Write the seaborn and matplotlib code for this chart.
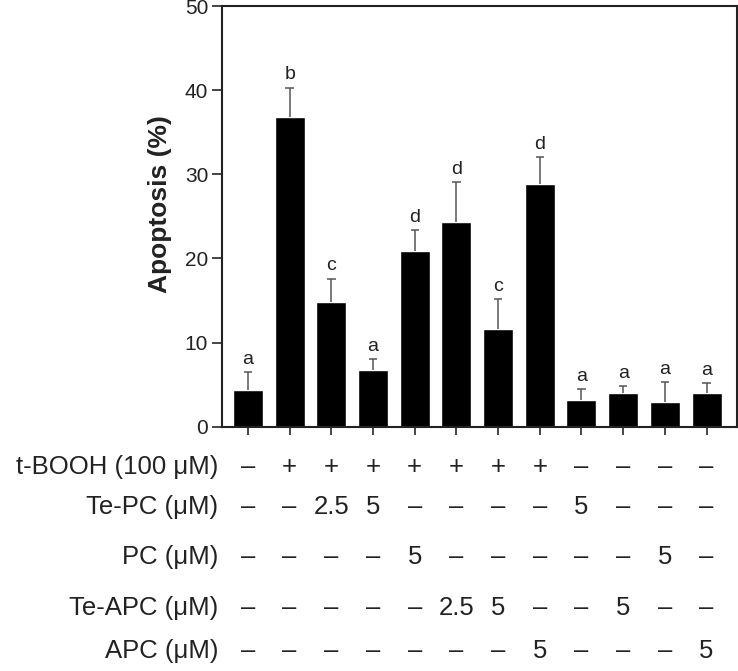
import numpy as np
import pandas as pd
import matplotlib
matplotlib.use("Agg")
import matplotlib.pyplot as plt
import seaborn as sns

# apoptosis values (mean) and upper error end
groups = [f"g{i}" for i in range(1, 13)]
apoptosis = [4.4, 36.8, 14.8, 6.7, 20.9, 24.3, 11.6, 28.9, 3.2, 4.0, 3.0, 4.0]
err_top = [6.5, 40.3, 17.6, 8.0, 23.4, 29.1, 15.2, 32.0, 4.5, 4.8, 5.3, 5.2]
letters = ["a", "b", "c", "a", "d", "d", "c", "d", "a", "a", "a", "a"]

# treatment table under the bars
row_labels = ["t-BOOH (100 μM)", "Te-PC (μM)", "PC (μM)", "Te-APC (μM)", "APC (μM)"]
tbooh = ["–", "+", "+", "+", "+", "+", "+", "+", "–", "–", "–", "–"]
te_pc = ["–", "–", "2.5", "5", "–", "–", "–", "–", "5", "–", "–", "–"]
pc = ["–", "–", "–", "–", "5", "–", "–", "–", "–", "–", "5", "–"]
te_apc = ["–", "–", "–", "–", "–", "2.5", "5", "–", "–", "5", "–", "–"]
apc = ["–", "–", "–", "–", "–", "–", "–", "5", "–", "–", "–", "5"]
table_rows = [tbooh, te_pc, pc, te_apc, apc]

df = pd.DataFrame({"group": groups, "apoptosis": apoptosis})

sns.set_style("ticks")
plt.rcParams['font.family'] = ['Liberation Sans', 'DejaVu Sans']

fig = plt.figure(figsize=(7.38, 6.71), dpi=100)
ax = fig.add_axes([0.301, 0.364, 0.697, 0.627])

sns.barplot(data=df, x="group", y="apoptosis", color="black", width=0.72,
            saturation=1, errorbar=None, ax=ax)
x = np.arange(len(groups))
# upper error bars only: stem from bar top plus a cap
ax.vlines(x, apoptosis, err_top, color="#555555", lw=1.1, zorder=1)
ax.hlines(err_top, x - 0.1, x + 0.1, color="#555555", lw=1.1, zorder=1)

# significance letters above the error bars
for xi, top, lab in zip(x, err_top, letters):
    ax.text(xi, top + 0.5, lab, ha="center", va="bottom", fontsize=14, color="#222222")

ax.set_xlim(-0.62, 11.72)
ax.set_ylim(0, 50)
ax.set_yticks([0, 10, 20, 30, 40, 50])
ax.tick_params(axis="y", labelsize=15, length=7, width=1.2, pad=3, labelcolor="#222222")
ax.tick_params(axis="x", labelbottom=False, length=6, width=1.2)
ax.set_xlabel("")
ax.set_ylabel("Apoptosis (%)", fontsize=19, fontweight="bold", color="#222222")
ax.yaxis.set_label_coords(-0.097, 0.53)
for s in ax.spines.values():
    s.set_visible(True)
    s.set_linewidth(1.5)
    s.set_color("#222222")

# treatment table
row_y = [-0.095, -0.19, -0.309, -0.43, -0.532]
trans = matplotlib.transforms.blended_transform_factory(ax.transData, ax.transAxes)
for yy, lab, vals in zip(row_y, row_labels, table_rows):
    ax.text(-0.008, yy, lab, transform=ax.transAxes, ha="right", va="center",
            fontsize=18.5, color="#222222", clip_on=False)
    for xi, v in zip(x, vals):
        ax.text(xi, yy, v, transform=trans, ha="center", va="center",
                fontsize=18.5, color="#222222", clip_on=False)

fig.savefig("out.png", dpi=100)
